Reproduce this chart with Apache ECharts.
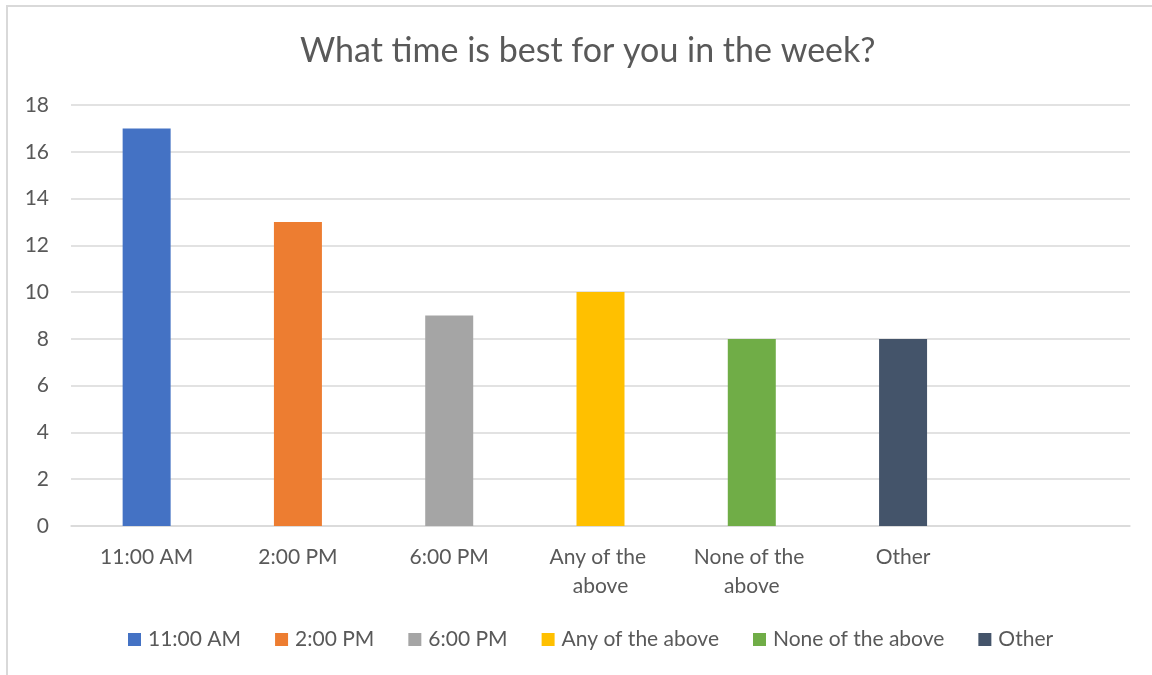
<!DOCTYPE html>
<html>
<head>
<meta charset="utf-8">
<script src="https://cdn.jsdelivr.net/npm/echarts@6/dist/echarts.min.js"></script>
<style>
  html, body { margin: 0; padding: 0; background: #ffffff; }
  #chart { width: 1152px; height: 675px; }
</style>
</head>
<body>
<div id="chart"></div>
<script>
// Survey answers: one bar per option, plus a trailing empty slot on the axis
const categories = ['11:00 AM', '2:00 PM', '6:00 PM', 'Any of the above', 'None of the above', 'Other', ''];
const seriesNames = ['11:00 AM', '2:00 PM', '6:00 PM', 'Any of the above', 'None of the above', 'Other'];
const counts = [17, 13, 9, 10, 8, 8];
const colors = ['#4472C4', '#ED7D31', '#A5A5A5', '#FFC000', '#70AD47', '#44546A'];
const yTicks = { min: 0, max: 18, interval: 2 };

const FONT = 'Lato, "Open Sans", sans-serif';
const TEXT = '#595959';
const GRID = '#d9d9d9';

// Each answer is its own series so it gets a legend entry; stacking keeps the bar centred in its slot
const series = seriesNames.map((name, i) => ({
  name: name,
  type: 'bar',
  stack: 'answers',
  barWidth: 48,
  itemStyle: { color: colors[i] },
  data: categories.map((_, j) => (j === i ? counts[i] : null))
}));

const chart = echarts.init(document.getElementById('chart'), null, { renderer: 'canvas' });
chart.setOption({
  animation: false,
  backgroundColor: '#ffffff',
  title: {
    text: 'What time is best for you in the week?',
    left: 295,
    top: 29,
    textStyle: { fontFamily: FONT, fontSize: 34, fontWeight: 'normal', color: TEXT }
  },
  legend: {
    data: seriesNames,
    bottom: 20,
    left: 123,
    itemWidth: 13,
    itemHeight: 13,
    itemGap: 34,
    icon: 'rect',
    textStyle: { fontFamily: FONT, fontSize: 21, color: TEXT, padding: [0, 0, 0, 2] }
  },
  grid: { left: 71, right: 22, top: 105, bottom: 149, containLabel: false },
  xAxis: {
    type: 'category',
    data: categories,
    axisLine: { show: true, lineStyle: { color: GRID, width: 1.5 } },
    axisTick: { show: false },
    axisLabel: {
      fontFamily: FONT, fontSize: 21, color: TEXT, margin: 17,
      lineHeight: 29, width: 130, overflow: 'break', interval: 0
    }
  },
  yAxis: {
    type: 'value',
    min: yTicks.min,
    max: yTicks.max,
    interval: yTicks.interval,
    axisLine: { show: false },
    axisTick: { show: false },
    splitLine: { lineStyle: { color: GRID, width: 1.5 } },
    axisLabel: { fontFamily: FONT, fontSize: 21, color: TEXT, margin: 22 }
  },
  graphic: [{
    type: 'rect',
    shape: { x: 7, y: 6, width: 1200, height: 720 },
    style: { fill: null, stroke: GRID, lineWidth: 2 },
    silent: true,
    z: -1
  }],
  series: series
});
</script>
</body>
</html>
